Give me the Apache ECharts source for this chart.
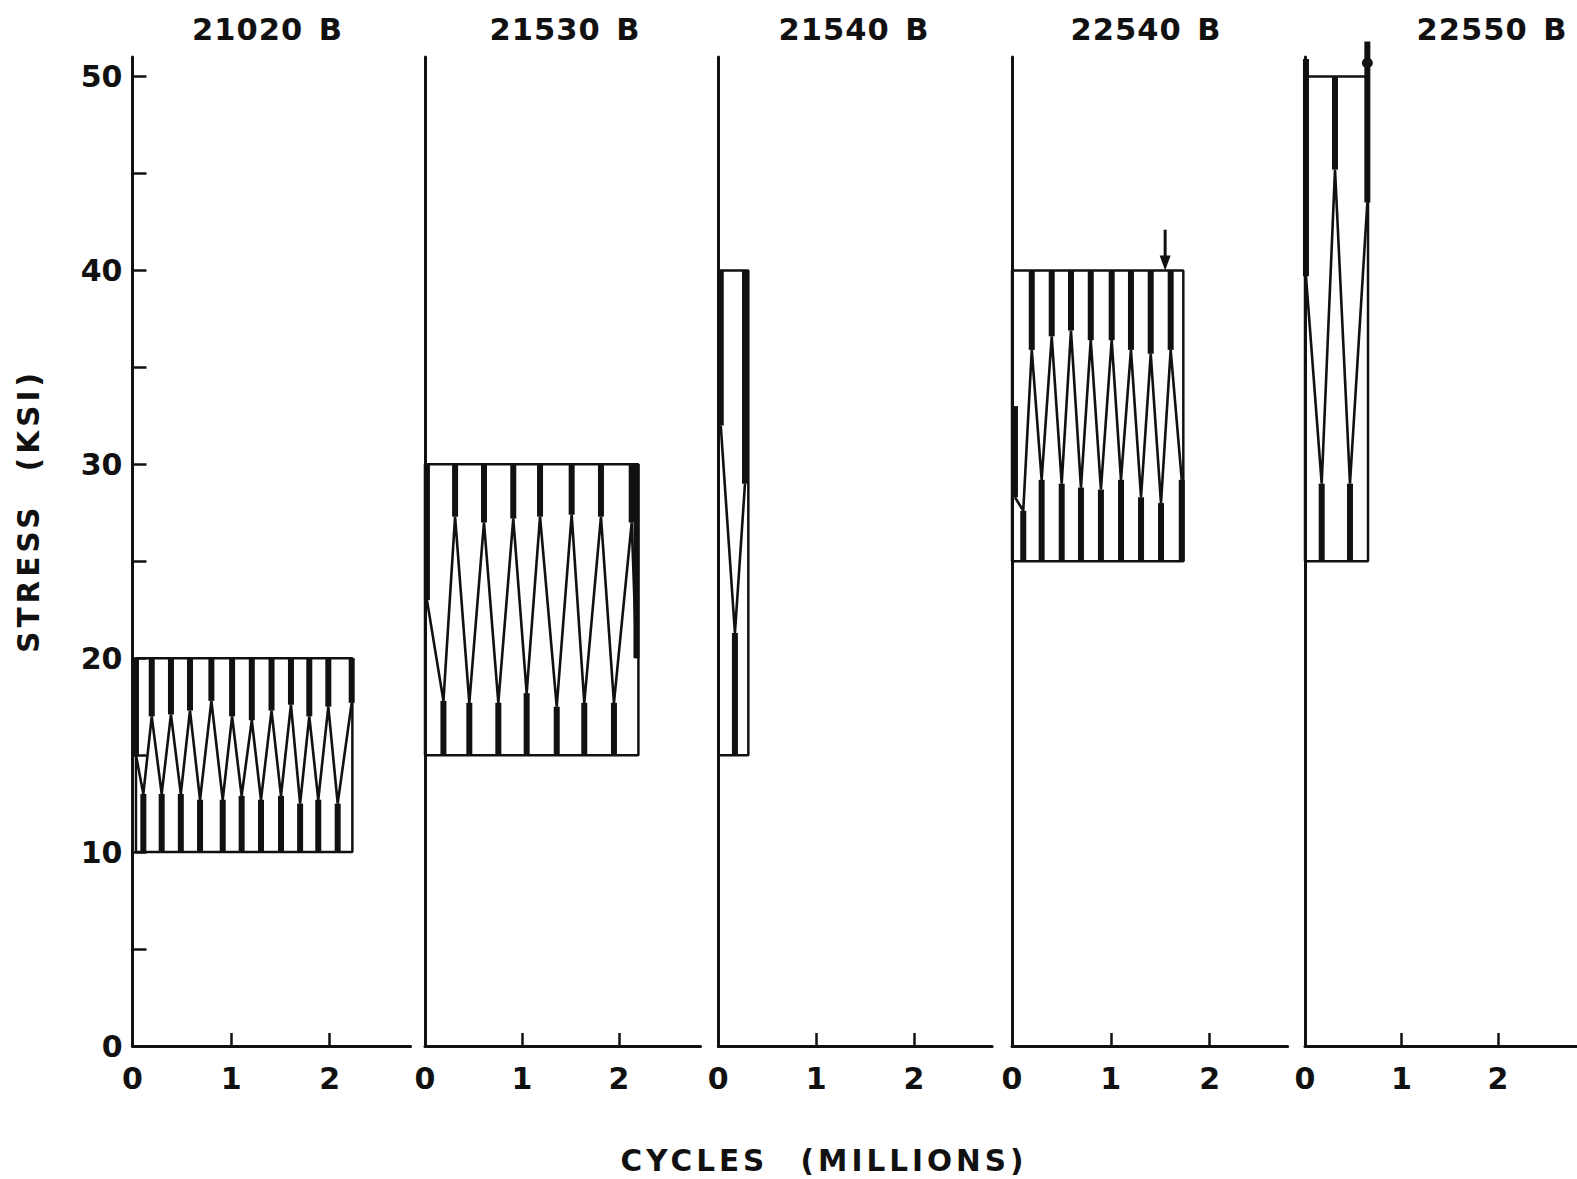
<!DOCTYPE html>
<html><head><meta charset="utf-8">
<script src="https://cdn.jsdelivr.net/npm/echarts@6/dist/echarts.min.js"></script>
<style>
html,body{margin:0;padding:0;background:#fff;}
#c{width:1577px;height:1179px;}
#c text[style*="30.5px"]{letter-spacing:1px;word-spacing:4px;}
#c text[style*="29.5px"]{letter-spacing:4px;word-spacing:18px;}
</style></head><body><div id="c"></div><script>
// ---------- data ----------
const panelTitles = ['21020 B', '21530 B', '21540 B', '22540 B', '22550 B'];
const yAxisName = 'STRESS (KSI)';
const xAxisName = 'CYCLES (MILLIONS)';
const yTickValues = [0, 5, 10, 15, 20, 25, 30, 35, 40, 45, 50];
const yLabelValues = [0, 10, 20, 30, 40, 50];
const xTickValues = [1, 2];
const xLabelValues = [0, 1, 2];
const yMax = 51;
const xMax = [2.82, 2.84, 2.80, 2.79, 2.86];

// stress block of each specimen (ksi) and its length (millions of cycles)
const stressMin = [10, 15, 15, 25, 25];
const stressMax = [20, 30, 40, 40, 50];
const boxStart = [0.035, 0, 0, 0, 0];
const boxEnd = [2.23, 2.2, 0.307, 1.734, 0.653];

// reversal positions (millions), extreme reached by the heavy stroke, inner stress where the trace turns
const cyc1 = [0.035, 0.11, 0.195, 0.296, 0.39, 0.49, 0.583, 0.685, 0.80, 0.915, 1.01, 1.107, 1.21, 1.303, 1.41, 1.506, 1.607, 1.70, 1.793, 1.884, 1.986, 2.081, 2.223];
const ext1 = [20, 10, 20, 10, 20, 10, 20, 10, 20, 10, 20, 10, 20, 10, 20, 10, 20, 10, 20, 10, 20, 10, 20];
const inn1 = [15, 13.0, 17.0, 13.0, 17.1, 13.0, 17.3, 12.7, 17.8, 12.7, 17.0, 12.9, 16.8, 12.7, 17.3, 12.9, 17.6, 12.5, 17.0, 12.7, 17.5, 12.5, 17.7];

const cyc2 = [0.02, 0.19, 0.31, 0.457, 0.608, 0.756, 0.91, 1.048, 1.186, 1.358, 1.512, 1.642, 1.814, 1.948, 2.131, 2.18];
const ext2 = [30, 15, 30, 15, 30, 15, 30, 15, 30, 15, 30, 15, 30, 15, 30, 30];
const inn2 = [23, 17.8, 27.3, 17.7, 27.0, 17.7, 27.2, 18.2, 27.3, 17.5, 27.4, 17.7, 27.3, 17.7, 27.0, 20];

const cyc3 = [0.025, 0.17, 0.273];
const ext3 = [40, 15, 40];
const inn3 = [32, 21.3, 29];

const cyc4 = [0.03, 0.114, 0.2, 0.30, 0.402, 0.503, 0.597, 0.698, 0.797, 0.90, 1.009, 1.103, 1.204, 1.306, 1.404, 1.508, 1.606, 1.718];
const ext4 = [33, 25, 40, 25, 40, 25, 40, 25, 40, 25, 40, 25, 40, 25, 40, 25, 40, 25];
const inn4 = [28.3, 27.6, 35.9, 29.2, 36.6, 29.0, 36.9, 28.8, 36.4, 28.7, 36.4, 29.2, 35.9, 28.3, 35.7, 28.0, 35.9, 29.2];

const cyc5 = [0.01, 0.173, 0.311, 0.466, 0.646];
const ext5 = [50.9, 25, 50, 25, 51.8];
const inn5 = [39.7, 29, 45.2, 29, 43.5];

// failure markers
const arrowPanel = 3, arrowX = 1.55, arrowFrom = 42.1, arrowTo = 40.0;
const dotPanel = 4, dotX = 0.646, dotY = 50.7;

// ---------- layout ----------
const gridLeft = [132.5, 425, 718.3, 1012, 1305];
const pxPerM = [98.6, 97, 97.8, 98.8, 96.5];
const gridTop = 57.1, gridHeight = 988.9;
const titleX = [267.5, 565, 854, 1146, 1492];
const INK = '#111';
const FONT = 'DejaVu Sans';

const cycles = [cyc1, cyc2, cyc3, cyc4, cyc5];
const extremes = [ext1, ext2, ext3, ext4, ext5];
const inners = [inn1, inn2, inn3, inn4, inn5];

const grids = [], xAxes = [], yAxes = [], series = [];
for (let i = 0; i < 5; i++) {
  grids.push({left: gridLeft[i], top: gridTop, width: xMax[i] * pxPerM[i], height: gridHeight, outerBoundsMode: 'none', containLabel: false});
  xAxes.push({
    type: 'value', gridIndex: i, min: 0, max: xMax[i],
    axisLine: {show: true, onZero: false, lineStyle: {color: INK, width: 3}},
    axisTick: {show: true, inside: true, length: 13, customValues: xTickValues, lineStyle: {color: INK, width: 2.5}},
    axisLabel: {show: true, customValues: xLabelValues, margin: 17, color: INK, fontSize: 30, fontWeight: 'bold', fontFamily: FONT},
    splitLine: {show: false}
  });
  yAxes.push({
    type: 'value', gridIndex: i, min: 0, max: yMax,
    axisLine: {show: true, onZero: false, lineStyle: {color: INK, width: 3}},
    axisTick: {show: i === 0, inside: true, length: 14, customValues: yTickValues, lineStyle: {color: INK, width: 2.5}},
    axisLabel: {show: i === 0, customValues: yLabelValues, margin: 10, color: INK, fontSize: 30, fontWeight: 'bold', fontFamily: FONT},
    splitLine: {show: false}
  });
  // stress block outline
  series.push({
    type: 'line', xAxisIndex: i, yAxisIndex: i, showSymbol: false, silent: true,
    lineStyle: {color: INK, width: 2.5},
    data: [[boxStart[i], stressMin[i]], [boxStart[i], stressMax[i]], [boxEnd[i], stressMax[i]], [boxEnd[i], stressMin[i]], [boxStart[i], stressMin[i]]]
  });
  // load trace
  series.push({
    type: 'line', xAxisIndex: i, yAxisIndex: i, showSymbol: false, silent: true,
    lineStyle: {color: INK, width: 2.6},
    data: cycles[i].map((x, k) => [x, inners[i][k]])
  });
  // heavy strokes at each reversal
  series.push({
    type: 'custom', xAxisIndex: i, yAxisIndex: i, silent: true,
    data: cycles[i].map((x, k) => [x, extremes[i][k], inners[i][k]]),
    renderItem: function (params, api) {
      const a = api.coord([api.value(0), api.value(1)]);
      const b = api.coord([api.value(0), api.value(2)]);
      return {type: 'line', shape: {x1: a[0], y1: a[1], x2: b[0], y2: b[1]}, style: {stroke: INK, lineWidth: 6, lineCap: 'butt'}};
    }
  });
}
// arrow on 22540 B
series.push({
  type: 'custom', xAxisIndex: arrowPanel, yAxisIndex: arrowPanel, silent: true,
  data: [[arrowX, arrowFrom, arrowTo]],
  renderItem: function (params, api) {
    const a = api.coord([api.value(0), api.value(1)]);
    const b = api.coord([api.value(0), api.value(2)]);
    return {type: 'group', children: [
      {type: 'line', shape: {x1: a[0], y1: a[1], x2: b[0], y2: b[1] - 10}, style: {stroke: INK, lineWidth: 3}},
      {type: 'polygon', shape: {points: [[b[0] - 5.5, b[1] - 15], [b[0] + 5.5, b[1] - 15], [b[0], b[1]]]}, style: {fill: INK}}
    ]};
  }
});
// failure dot on 22550 B
series.push({
  type: 'scatter', xAxisIndex: dotPanel, yAxisIndex: dotPanel, silent: true,
  symbol: 'circle', symbolSize: [11, 10], itemStyle: {color: INK, opacity: 1},
  data: [[dotX, dotY]]
});

const graphics = panelTitles.map((t, i) => ({
  type: 'text', x: titleX[i], y: 29.5, silent: true,
  style: {text: t, fill: INK, fontSize: 30.5, fontWeight: 'bold', fontFamily: FONT, textAlign: 'center', align: 'center', textVerticalAlign: 'middle', verticalAlign: 'middle'}
}));
graphics.push({
  type: 'text', x: 824, y: 1161, silent: true,
  style: {text: xAxisName, fill: INK, fontSize: 29.5, fontWeight: 'bold', fontFamily: FONT, textAlign: 'center', align: 'center', textVerticalAlign: 'middle', verticalAlign: 'middle'}
});
graphics.push({
  type: 'text', x: 28.5, y: 511, rotation: Math.PI / 2, silent: true,
  style: {text: yAxisName, fill: INK, fontSize: 29.5, fontWeight: 'bold', fontFamily: FONT, textAlign: 'center', align: 'center', textVerticalAlign: 'middle', verticalAlign: 'middle'}
});

const chart = echarts.init(document.getElementById('c'), null, {renderer: 'svg', width: 1577, height: 1179});
chart.setOption({
  animation: false,
  backgroundColor: '#fff',
  grid: grids, xAxis: xAxes, yAxis: yAxes, series: series, graphic: graphics
});
</script></body></html>
